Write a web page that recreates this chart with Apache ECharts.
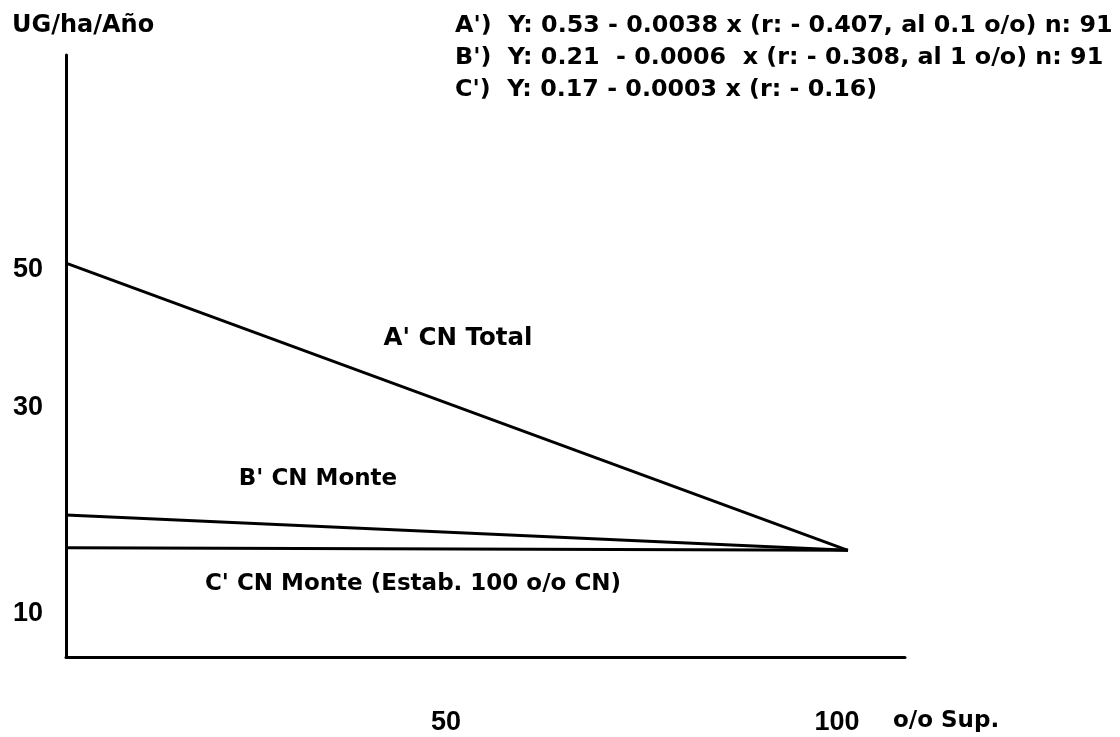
<!DOCTYPE html>
<html><head><meta charset="utf-8">
<script src="https://cdn.jsdelivr.net/npm/echarts@6.0.0/dist/echarts.min.js"></script>
<style>html,body{margin:0;padding:0;background:#fff}#c{width:1120px;height:737px}</style>
</head><body><div id="c"></div>
<script>
// ---- data ----
const xValues = [0, 100];
const seriesNames = ["A' CN Total", "B' CN Monte", "C' CN Monte (Estab. 100 o/o CN)"];
const seriesA = [50.8, 17.4];
const seriesB = [21.5, 17.4];
const seriesC = [17.7, 17.4];
const yTickValues = [10, 34, 50];
const yTickLabels = ['10', '30', '50'];
const xTickValues = [50, 100];
const xTickLabels = ['50', '100'];
const yAxisTitle = 'UG/ha/Año';
const xAxisTitle = 'o/o Sup.';
const equations = [
  "A')  Y: 0.53 - 0.0038 x (r: - 0.407, al 0.1 o/o) n: 91",
  "B')  Y: 0.21  - 0.0006  x (r: - 0.308, al 1 o/o) n: 91",
  "C')  Y: 0.17 - 0.0003 x (r: - 0.16)"
];

const FONT = 'Liberation Sans';
const WFONT = '"DejaVu Sans", sans-serif';
const chart = echarts.init(document.getElementById('c'), null, {renderer: 'canvas'});

function pair(vals) { return xValues.map((x, i) => [x, vals[i]]); }
const lineStyle = {color: '#000', width: 3};

function txt(text, x, y, size, align) {
  return {
    type: 'text', x: x, y: y, silent: true,
    style: {text: text, fill: '#000', font: 'bold ' + size + 'px ' + WFONT,
      align: align || 'left', verticalAlign: 'middle',
      textAlign: align || 'left', textVerticalAlign: 'middle'}
  };
}

const option = {
  animation: false,
  backgroundColor: '#fff',
  grid: {left: 66, right: 215, top: 55, bottom: 80},
  xAxis: {
    type: 'value', min: 0, max: 107.3,
    splitLine: {show: false},
    axisTick: {show: false},
    axisLine: {show: true, onZero: false, lineStyle: {color: '#000', width: 3}},
    axisLabel: {
      customValues: xTickValues,
      formatter: v => xTickLabels[xTickValues.indexOf(v)],
      color: '#000', fontSize: 27, fontWeight: 'bold', fontFamily: FONT,
      margin: 52, padding: [0, 22, 0, 0]
    }
  },
  yAxis: {
    type: 'value', min: 5, max: 75,
    splitLine: {show: false},
    axisTick: {show: false},
    axisLine: {show: true, onZero: false, lineStyle: {color: '#000', width: 3}},
    axisLabel: {
      customValues: yTickValues,
      formatter: v => yTickLabels[yTickValues.indexOf(v)],
      color: '#000', fontSize: 27, fontWeight: 'bold', fontFamily: FONT,
      margin: 23
    }
  },
  series: [
    {name: seriesNames[0], type: 'line', data: pair(seriesA), symbol: 'none', lineStyle: lineStyle},
    {name: seriesNames[1], type: 'line', data: pair(seriesB), symbol: 'none', lineStyle: lineStyle},
    {name: seriesNames[2], type: 'line', data: pair(seriesC), symbol: 'none', lineStyle: lineStyle}
  ],
  graphic: [
    txt(yAxisTitle, 12, 26, 24),
    txt(equations[0], 455, 26, 23.8),
    txt(equations[1], 455, 58, 23.8),
    txt(equations[2], 455, 90, 23.8),
    txt(xAxisTitle, 893, 721, 23),
    txt(seriesNames[0], 458, 339, 24.5, 'center'),
    txt(seriesNames[1], 318, 479, 23, 'center'),
    txt(seriesNames[2], 413, 584, 23, 'center')
  ]
};
chart.setOption(option);
</script>
</body></html>
